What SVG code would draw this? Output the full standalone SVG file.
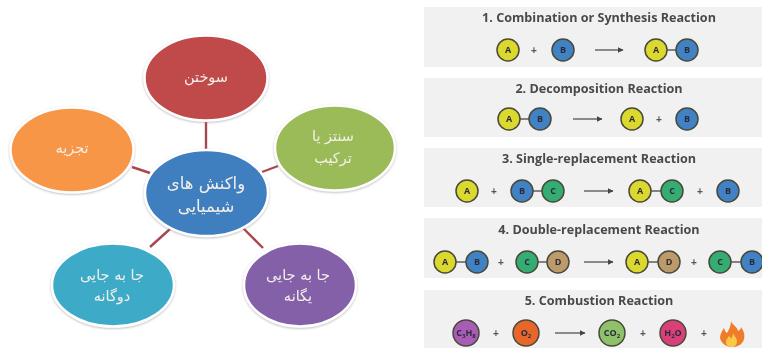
<svg xmlns="http://www.w3.org/2000/svg" width="762" height="348" viewBox="0 0 762 348">
<style>
text{text-anchor:middle}
.bub{stroke:#fff;stroke-width:2.5;filter:url(#shadow)}
.fa{font-family:"DejaVu Sans",sans-serif;fill:#f4efe9;font-size:14.5px;filter:url(#soft)}
.big{font-size:16.5px}
.link{stroke:#a8474f;stroke-width:2.4;fill:none}
.panel{fill:#f1f1f2}
.title{font-family:"Open Sans","Liberation Sans",sans-serif;font-weight:700;font-size:12.6px;fill:#4a4a4c;filter:url(#soft)}
.at{stroke:#4a4a3a;stroke-width:1.5}
.lab{font-family:"Open Sans","Liberation Sans",sans-serif;font-weight:700;font-size:9px;fill:#2c2c3c}
.sub{font-size:6px}
.y{fill:#dcd92e}.b{fill:#3f82c4}.g{fill:#35ad72}.d{fill:#bd9a6a}
.bond{stroke:#444;stroke-width:1.3}
.plus{font-family:"Liberation Sans",sans-serif;font-weight:700;font-size:10px;fill:#555}
.arr{stroke:#444;stroke-width:1.2;marker-end:url(#ah)}
.row{filter:url(#soft)}
</style>
<defs>
<filter id="shadow" x="-10%" y="-10%" width="120%" height="125%"><feDropShadow dx="0" dy="1" stdDeviation="1.2" flood-color="#8a8a8a" flood-opacity=".55"/></filter>
<filter id="soft" x="-10%" y="-30%" width="120%" height="160%"><feGaussianBlur stdDeviation="0.35"/></filter>
<marker id="ah" markerWidth="7" markerHeight="7" refX="5.500" refY="3" orient="auto" markerUnits="userSpaceOnUse"><path d="M0 0L6 3L0 6Z" fill="#444"/></marker>
</defs>
<rect width="762" height="348" fill="#fff"/>

<g id="connectors">
<line class="link" x1="206" y1="122" x2="206" y2="149"/>
<line class="link" x1="132" y1="167" x2="150" y2="173"/>
<line class="link" x1="262" y1="172" x2="278" y2="166"/>
<line class="link" x1="150" y1="247" x2="170" y2="229"/>
<line class="link" x1="263" y1="248" x2="243" y2="228"/>
</g>

<g id="node-red"><ellipse class="bub" cx="206" cy="78" rx="61.500" ry="42.500" fill="#c0484a"/><text class="fa" x="206" y="82">سوختن</text></g>
<g id="node-orange"><ellipse class="bub" cx="72" cy="150" rx="61.500" ry="42.500" fill="#f79646"/><text class="fa" x="72" y="153">تجزیه</text></g>
<g id="node-green"><ellipse class="bub" cx="335" cy="148" rx="60" ry="42.500" fill="#9bbb59"/><text class="fa" x="333" y="141">سنتز یا</text><text class="fa" x="333" y="163">ترکیب</text></g>
<g id="node-center"><ellipse class="bub" cx="206.500" cy="193" rx="61.500" ry="43" fill="#3f7fbf"/><text class="fa big" x="206" y="189">واکنش های</text><text class="fa big" x="206" y="212">شیمیایی</text></g>
<g id="node-teal"><ellipse class="bub" cx="113" cy="285" rx="61" ry="41.500" fill="#3cabc8"/><text class="fa" x="112" y="280">جا به جایی</text><text class="fa" x="112" y="301">دوگانه</text></g>
<g id="node-purple"><ellipse class="bub" cx="300" cy="285" rx="56" ry="41.500" fill="#8460a8"/><text class="fa" x="298" y="280">جا به جایی</text><text class="fa" x="298" y="301">یگانه</text></g>

<g id="panel-1">
<rect class="panel" x="424" y="7" width="338" height="60"/>
<text class="title" x="599" y="22">1. Combination or Synthesis Reaction</text>
<g class="row">
<circle class="y at" cx="508" cy="50" r="11"/><text class="lab" x="508" y="53">A</text>
<text class="plus" x="534" y="53.500">+</text>
<circle class="b at" cx="563" cy="50" r="11"/><text class="lab" x="563" y="53">B</text>
<line class="arr" x1="595" y1="50" x2="623" y2="50"/>
<line class="bond" x1="666" y1="50" x2="677" y2="50"/>
<circle class="y at" cx="656" cy="50" r="11"/><text class="lab" x="656" y="53">A</text>
<circle class="b at" cx="687" cy="50" r="11"/><text class="lab" x="687" y="53">B</text>
</g>
</g>

<g id="panel-2">
<rect class="panel" x="424" y="78" width="338" height="59"/>
<text class="title" x="599" y="93">2. Decomposition Reaction</text>
<g class="row">
<line class="bond" x1="519" y1="119" x2="530" y2="119"/>
<circle class="y at" cx="509" cy="119" r="11"/><text class="lab" x="509" y="122">A</text>
<circle class="b at" cx="540" cy="119" r="11"/><text class="lab" x="540" y="122">B</text>
<line class="arr" x1="573" y1="119" x2="602" y2="119"/>
<circle class="y at" cx="632" cy="119" r="11"/><text class="lab" x="632" y="122">A</text>
<text class="plus" x="659" y="122.500">+</text>
<circle class="b at" cx="687" cy="119" r="11"/><text class="lab" x="687" y="122">B</text>
</g>
</g>

<g id="panel-3">
<rect class="panel" x="424" y="148" width="338" height="59"/>
<text class="title" x="599" y="163">3. Single-replacement Reaction</text>
<g class="row">
<circle class="y at" cx="467" cy="191" r="11"/><text class="lab" x="467" y="194">A</text>
<text class="plus" x="494" y="194.500">+</text>
<line class="bond" x1="533" y1="191" x2="542" y2="191"/>
<circle class="b at" cx="522" cy="191" r="11"/><text class="lab" x="522" y="194">B</text>
<circle class="g at" cx="553" cy="191" r="11"/><text class="lab" x="553" y="194">C</text>
<line class="arr" x1="584" y1="191" x2="613" y2="191"/>
<line class="bond" x1="651" y1="191" x2="661" y2="191"/>
<circle class="y at" cx="640" cy="191" r="11"/><text class="lab" x="640" y="194">A</text>
<circle class="g at" cx="672" cy="191" r="11"/><text class="lab" x="672" y="194">C</text>
<text class="plus" x="700" y="194.500">+</text>
<circle class="b at" cx="728" cy="191" r="11"/><text class="lab" x="728" y="194">B</text>
</g>
</g>

<g id="panel-4">
<rect class="panel" x="424" y="218" width="338" height="60"/>
<text class="title" x="599" y="234">4. Double-replacement Reaction</text>
<g class="row">
<line class="bond" x1="456" y1="262" x2="466" y2="262"/>
<circle class="y at" cx="445" cy="262" r="11"/><text class="lab" x="445" y="265">A</text>
<circle class="b at" cx="477" cy="262" r="11"/><text class="lab" x="477" y="265">B</text>
<text class="plus" x="501" y="265.500">+</text>
<line class="bond" x1="538" y1="262" x2="547" y2="262"/>
<circle class="g at" cx="527" cy="262" r="11"/><text class="lab" x="527" y="265">C</text>
<circle class="d at" cx="558" cy="262" r="11"/><text class="lab" x="558" y="265">D</text>
<line class="arr" x1="584" y1="262" x2="613" y2="262"/>
<line class="bond" x1="648" y1="262" x2="658" y2="262"/>
<circle class="y at" cx="637" cy="262" r="11"/><text class="lab" x="637" y="265">A</text>
<circle class="d at" cx="669" cy="262" r="11"/><text class="lab" x="669" y="265">D</text>
<text class="plus" x="694" y="265.500">+</text>
<line class="bond" x1="731" y1="262" x2="741" y2="262"/>
<circle class="g at" cx="720" cy="262" r="11"/><text class="lab" x="720" y="265">C</text>
<circle class="b at" cx="752" cy="262" r="11"/><text class="lab" x="752" y="265">B</text>
</g>
</g>

<g id="panel-5">
<rect class="panel" x="424" y="290" width="338" height="58"/>
<text class="title" x="599" y="305">5. Combustion Reaction</text>
<g class="row">
<circle class="at" fill="#a85bb5" cx="466" cy="333" r="13"/><text class="lab" x="466" y="336">C<tspan class="sub" dy="2">3</tspan><tspan dy="-2">H</tspan><tspan class="sub" dy="2">8</tspan></text>
<text class="plus" x="496" y="336.500">+</text>
<circle class="at" fill="#e8662c" cx="526" cy="333" r="13"/><text class="lab" x="526" y="336">O<tspan class="sub" dy="2">2</tspan></text>
<line class="arr" x1="555" y1="333" x2="585" y2="333"/>
<circle class="at" fill="#8fc06a" cx="612" cy="333" r="13"/><text class="lab" x="612" y="336">CO<tspan class="sub" dy="2">2</tspan></text>
<text class="plus" x="643" y="336.500">+</text>
<circle class="at" fill="#d9417a" cx="673" cy="333" r="13"/><text class="lab" x="673" y="336">H<tspan class="sub" dy="2">2</tspan><tspan dy="-2">O</tspan></text>
<text class="plus" x="704" y="336.500">+</text>
<path d="M731 321C733 326 737 326 738 331C740 330 741 329 741 327C744 331 745 335 744 339C743 344 738 347 732 347C726 347 721 343 720 338C720 334 722 331 724 328C725 330 725 332 727 333C729 329 731 326 731 321Z" fill="#ee7d2a"/>
<path d="M733 333C734 336 737 338 737 341C737 345 734 347 732 347C729 347 726 345 726 342C726 339 728 338 729 336C730 337 731 338 731 339C732 337 733 335 733 333Z" fill="#fbc94a"/>
</g>
</g>
</svg>
